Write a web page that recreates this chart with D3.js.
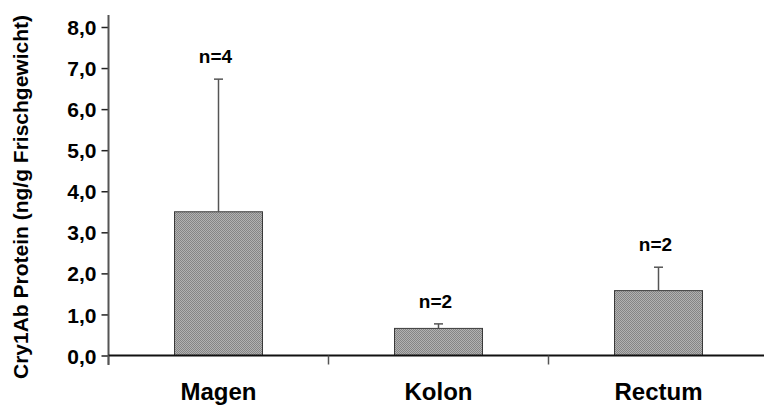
<!DOCTYPE html>
<html><head><meta charset="utf-8">
<script src="https://cdn.jsdelivr.net/npm/d3@7"></script>
<style>html,body{margin:0;padding:0;background:#fff;}svg{display:block;}</style>
</head><body>
<svg id="chart" width="764" height="406"></svg>
<script>
const categories = ["Magen", "Kolon", "Rectum"];
const means = [3.5, 0.66, 1.58];
const errors = [3.23, 0.11, 0.57];
const nLabels = ["n=4", "n=2", "n=2"];
const yTicks = [0, 1, 2, 3, 4, 5, 6, 7, 8];
const yTitle = "Cry1Ab Protein (ng/g Frischgewicht)";

const svg = d3.select("#chart");
const defs = svg.append("defs");
const pat = defs.append("pattern").attr("id","dots").attr("width",2).attr("height",2).attr("patternUnits","userSpaceOnUse");
pat.append("rect").attr("width",2).attr("height",2).attr("fill","#b2b2b2");
pat.append("rect").attr("width",1).attr("height",1).attr("fill","#858585");
pat.append("rect").attr("x",1).attr("y",1).attr("width",1).attr("height",1).attr("fill","#858585");

const x = d3.scaleBand().domain(categories).range([108.5, 768.5]).paddingInner(0.6).paddingOuter(0.3);
const y = d3.scaleLinear().domain([0, 8]).range([355.5, 27]);
const font = "'Liberation Sans', Arial, sans-serif";

// bars
svg.selectAll("rect.bar").data(categories).join("rect")
  .attr("x", d => x(d)).attr("y", (d,i) => y(means[i]))
  .attr("width", x.bandwidth()).attr("height", (d,i) => y(0) - y(means[i]))
  .attr("fill", "url(#dots)").attr("stroke", "#3a3a3a").attr("stroke-width", 1);

// error bars (upward only)
const eg = svg.append("g").attr("stroke", "#555").attr("stroke-width", 1.5);
categories.forEach((c, i) => {
  const cx = x(c) + x.bandwidth()/2;
  eg.append("line").attr("x1", cx).attr("x2", cx).attr("y1", y(means[i])).attr("y2", y(means[i] + errors[i]));
  eg.append("line").attr("x1", cx - 4.5).attr("x2", cx + 4.5).attr("y1", y(means[i] + errors[i])).attr("y2", y(means[i] + errors[i]));
});

// n labels
svg.selectAll("text.n").data(categories).join("text")
  .attr("x", d => x(d) + x.bandwidth()/2 - 3)
  .attr("y", (d,i) => y(means[i] + errors[i]) - 16)
  .attr("text-anchor", "middle").attr("font-family", font).attr("font-weight", "bold").attr("font-size", 19)
  .text((d,i) => nLabels[i]);

// y axis
const yAxis = svg.append("g").attr("transform", "translate(108.5,0)")
  .call(d3.axisLeft(y).tickValues(yTicks).tickSize(7).tickFormat(d => d3.format(".1f")(d).replace(".", ",")));
yAxis.select(".domain").remove();
yAxis.append("line").attr("x1", 0).attr("x2", 0).attr("y1", 15).attr("y2", 365).attr("stroke", "#555").attr("stroke-width", 2);
yAxis.selectAll(".tick line").attr("stroke", "#222").attr("stroke-width", 1.5);
yAxis.selectAll(".tick text").attr("font-family", font).attr("font-weight", "bold").attr("font-size", 21).attr("fill", "#000").attr("x", -12).attr("dy", "0.36em");

// x axis
const xAxis = svg.append("g").attr("transform", "translate(0,355.5)");
xAxis.append("line").attr("x1", 108.5).attr("x2", 764).attr("y1", 0).attr("y2", 0).attr("stroke", "#111").attr("stroke-width", 2);
const step = x.step();
[0, 1, 2, 3].forEach(k => {
  const tx = 108.5 + k * step;
  xAxis.append("line").attr("x1", tx).attr("x2", tx).attr("y1", 0).attr("y2", 9).attr("stroke", "#555").attr("stroke-width", 1.5);
});
xAxis.selectAll("text.cat").data(categories).join("text")
  .attr("x", d => x(d) + x.bandwidth()/2)
  .attr("y", 44)
  .attr("text-anchor", "middle").attr("font-family", font).attr("font-weight", "bold").attr("font-size", 24)
  .text(d => d);

// y title
svg.append("text").attr("transform", "translate(28,197) rotate(-90)")
  .attr("text-anchor", "middle").attr("font-family", font).attr("font-weight", "bold").attr("font-size", 21)
  .text(yTitle);
</script>
</body></html>
